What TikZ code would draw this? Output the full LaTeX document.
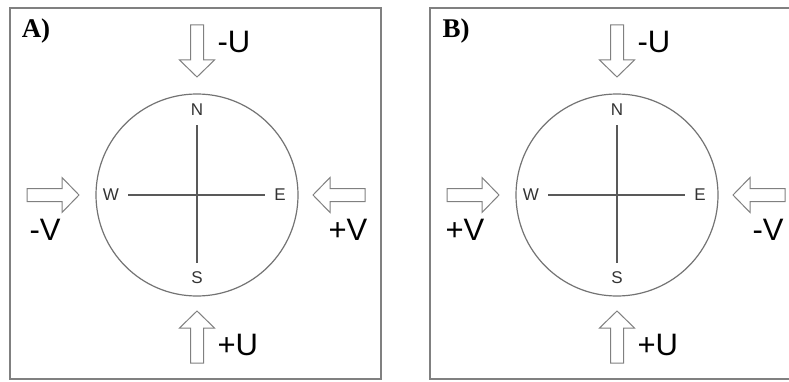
\documentclass[tikz,border=0pt]{standalone}
\usepackage{fontspec}
\setmainfont{Liberation Sans}
\newfontfamily\panelfont{Liberation Serif}
\tikzset{
  ring/.style={draw=black!55, line width=1.2pt},
  crossline/.style={draw=black!65, line width=1.1pt, shorten <=6pt, shorten >=6pt},
  compass/.style={inner sep=3pt, font=\fontsize{17}{17}\selectfont, text=black!80},
  bigtext/.style={font=\fontsize{31}{31}\selectfont},
  paneltag/.style={font=\panelfont\bfseries\fontsize{27}{27}\selectfont},
  panelframe/.style={draw=black!50, line width=2pt},
  pics/blockarrow/.style={code={
    \draw[draw=black!50, fill=white, line width=1pt]
      (0,-6.5) -- (35,-6.5) -- (35,-17.5) -- (52,0) -- (35,17.5) -- (35,6.5) -- (0,6.5) -- cycle;
  }}
}
\begin{document}
\begin{tikzpicture}[x=1pt, y=1pt]
  \clip (0,0) rectangle (789,381);
  \useasboundingbox (0,0) rectangle (789,381);

  \foreach \dx/\pn/\lft/\rgt/\fw in {0/A/-V/+V/381, 420/B/+V/-V/440}{
    \begin{scope}[xshift=\dx pt]
      % Frame and panel letter
      \draw[panelframe] (10,2) rectangle (\fw,373);
      \node[paneltag] (tag\pn) at (36,350) {\pn)};

      % Circle
      \draw[ring] (197,186) circle[radius=101pt];

      % Compass points
      \node[compass] (N\pn) at (197,271) {N};
      \node[compass] (S\pn) at (197,103) {S};
      \node[compass] (W\pn) at (111,186) {W};
      \node[compass] (E\pn) at (280,186) {E};
      \draw[crossline] (W\pn) -- (E\pn);
      \draw[crossline] (N\pn) -- (S\pn);

      % Block arrows
      \pic[rotate=-90] at (197,356) {blockarrow};
      \pic[rotate=90] at (197,18) {blockarrow};
      \pic at (27,186) {blockarrow};
      \pic[rotate=180] at (365,186) {blockarrow};

      % U and V labels
      \node[bigtext, anchor=west] (mu\pn) at (214,339) {-U};
      \node[bigtext, anchor=west] (pu\pn) at (214,36) {+U};
      \node[bigtext] (lv\pn) at (45,151) {\lft};
      \node[bigtext] (rv\pn) at (348,151) {\rgt};
    \end{scope}
  }
\end{tikzpicture}
\end{document}
